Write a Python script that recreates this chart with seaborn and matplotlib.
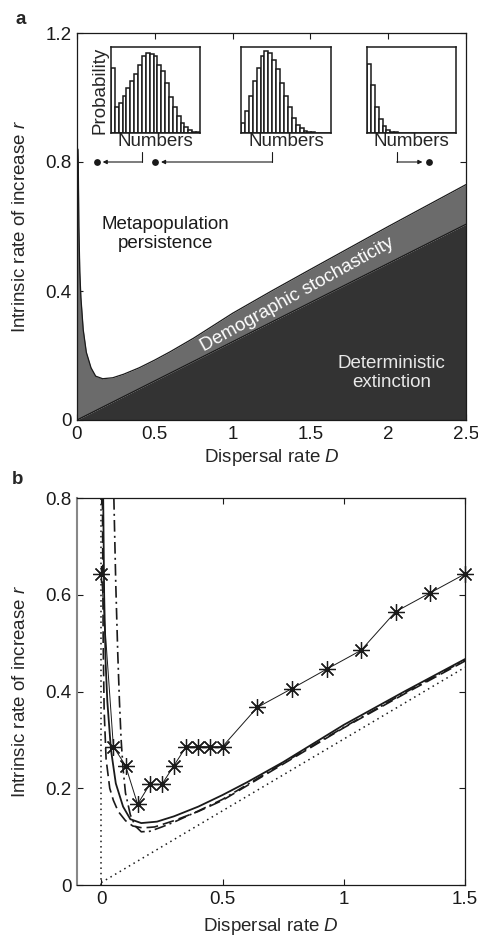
import numpy as np
import pandas as pd
import seaborn as sns
import matplotlib.pyplot as plt
from matplotlib.ticker import FuncFormatter

sns.set_theme(style="ticks")
plt.rcParams["font.family"] = ["Liberation Sans", "DejaVu Sans"]
plt.rcParams["mathtext.fontset"] = "custom"
plt.rcParams["mathtext.it"] = "Liberation Sans:italic"
plt.rcParams["mathtext.rm"] = "Liberation Sans"

FS = 13.5

# ---- panel a: region boundaries ----
upper_D = [0.006, 0.008, 0.012, 0.018, 0.025, 0.04, 0.06, 0.09, 0.12, 0.165,
           0.23, 0.3, 0.4, 0.5, 0.6, 0.75, 1.0, 1.25, 1.5, 2.0, 2.5]
upper_r = [0.84, 0.8, 0.6, 0.46, 0.38, 0.28, 0.21, 0.162, 0.136, 0.128,
           0.131, 0.142, 0.162, 0.186, 0.212, 0.254, 0.331, 0.400, 0.467, 0.60, 0.73]
lower_D = [0.0, 2.5]
lower_r = [0.0, 0.607]

# inset histograms (relative probabilities)
hist_left = [0.75, 0.30, 0.35, 0.43, 0.52, 0.61, 0.69, 0.79, 0.89, 0.93, 0.92, 0.89,
             0.79, 0.72, 0.58, 0.42, 0.30, 0.20, 0.115, 0.077, 0.04, 0.02, 0.01]
hist_mid = [0.115, 0.26, 0.43, 0.60, 0.75, 0.89, 0.95, 0.93, 0.85, 0.74, 0.58, 0.43,
            0.30, 0.18, 0.10, 0.057, 0.03, 0.02, 0.01, 0.005, 0.0, 0.0, 0.0]
hist_right = [0.80, 0.56, 0.31, 0.17, 0.084, 0.04, 0.02, 0.01, 0.005, 0.0, 0.0, 0.0,
              0.0, 0.0, 0.0, 0.0, 0.0, 0.0, 0.0, 0.0, 0.0, 0.0, 0.0]
dot_D = [0.127, 0.50, 2.26]

# ---- panel b: curves ----
solid_D = upper_D[:19]
solid_r = upper_r[:19]
dashed_D = [0.005, 0.008, 0.012, 0.02, 0.035, 0.05, 0.07, 0.1, 0.13, 0.17, 0.22,
            0.3, 0.4, 0.5, 0.75, 1.0, 1.25, 1.5]
dashed_r = [0.8, 0.5, 0.36, 0.26, 0.2, 0.175, 0.152, 0.133, 0.122, 0.118, 0.12,
            0.133, 0.152, 0.175, 0.25, 0.325, 0.395, 0.463]
dashdot_D = [0.052, 0.06, 0.068, 0.075, 0.082, 0.09, 0.1, 0.12, 0.14, 0.165, 0.2,
             0.25, 0.3, 0.4, 0.5, 0.75, 1.0, 1.25, 1.5]
dashdot_r = [0.8, 0.62, 0.48, 0.38, 0.3, 0.24, 0.19, 0.145, 0.122, 0.11, 0.111,
             0.12, 0.13, 0.153, 0.177, 0.252, 0.326, 0.397, 0.465]
dotted_D = [0.0, 1.5]
dotted_r = [0.005, 0.45]
sim_D = [0, 0.05, 0.1, 0.15, 0.2, 0.25, 0.3, 0.35, 0.4, 0.45, 0.5,
         0.643, 0.786, 0.929, 1.071, 1.214, 1.357, 1.5]
sim_r = [0.643, 0.286, 0.247, 0.167, 0.208, 0.208, 0.247, 0.286, 0.286, 0.286, 0.286,
         0.367, 0.406, 0.446, 0.485, 0.565, 0.604, 0.643]

fig = plt.figure(figsize=(4.78, 9.4), dpi=100)
ax_a = fig.add_axes([77 / 478, 1 - 420 / 940, 389 / 478, 387 / 940])
ax_b = fig.add_axes([77 / 478, 1 - 885 / 940, 388 / 478, 387 / 940])

fmt = FuncFormatter(lambda v, p: f"{v:g}")


def style_axes(ax):
    ax.tick_params(direction="in", length=4, width=0.8, top=True, right=True,
                   labelsize=FS, pad=4, colors="k")
    for s in ax.spines.values():
        s.set_color("k")
        s.set_linewidth(0.9)
    ax.xaxis.set_major_formatter(fmt)
    ax.yaxis.set_major_formatter(fmt)


# ================= panel a =================
ax = ax_a
xx = np.array(upper_D)
lower_at = np.interp(xx, lower_D, lower_r)
ax.fill_between(lower_D, 0, lower_r, color="#333333", lw=0, zorder=1)
ax.fill_between(np.r_[0.0, xx], np.r_[0.0, lower_at], np.r_[upper_r[0], upper_r],
                color="#6b6b6b", lw=0, zorder=1)
sns.lineplot(x=upper_D, y=upper_r, ax=ax, color="k", lw=0.9, estimator=None, sort=False, zorder=2)
sns.lineplot(x=lower_D, y=lower_r, ax=ax, color="k", lw=0.9, estimator=None, sort=False, zorder=2)
ax.plot([0, 0], [0, upper_r[0]], color="k", lw=1.2, zorder=2)

ax.set_xlim(0, 2.5)
ax.set_ylim(0, 1.2)
ax.set_xticks([0, 0.5, 1, 1.5, 2, 2.5])
ax.set_yticks([0, 0.4, 0.8, 1.2])
style_axes(ax)
ax.set_xlabel("Dispersal rate $\\mathit{D}$", fontsize=FS, labelpad=3)
ax.set_ylabel("Intrinsic rate of increase $\\mathit{r}$", fontsize=FS, labelpad=12)

ax.text(0.571, 0.577, "Metapopulation\npersistence", ha="center", va="center",
        fontsize=FS, color="k", linespacing=1.1)
ax.text(2.022, 0.146, "Deterministic\nextinction", ha="center", va="center",
        fontsize=FS, color="#e8e8e8", linespacing=1.1)
ax.text(1.414, 0.39, "Demographic stochasticity", ha="center", va="center",
        fontsize=FS, color="white", rotation=29, rotation_mode="anchor")

# insets
inset_x = [(0.2185, 0.79), (1.054, 1.632), (1.864, 2.436)]
hists = [hist_left, hist_mid, hist_right]
corner_D = [0.416, 1.255, 2.055]
tip_D = [0.165, 0.54, 2.22]
for i, ((x0, x1), h) in enumerate(zip(inset_x, hists)):
    ins = ax.inset_axes([x0, 0.889, x1 - x0, 1.157 - 0.889], transform=ax.transData)
    df = pd.DataFrame({"n": np.arange(len(h)), "p": h})
    sns.barplot(data=df, x="n", y="p", ax=ins, color="white", edgecolor="k",
                linewidth=1.1, width=1.0, saturation=1)
    ins.set_xlim(-0.5, len(h) - 0.5)
    ins.set_ylim(0, 1.0)
    ins.set_xticks([])
    ins.set_yticks([])
    for s in ins.spines.values():
        s.set_color("k")
        s.set_linewidth(1.1)
    ins.set_xlabel("Numbers", fontsize=FS, labelpad=0)
    ins.set_ylabel("Probability" if i == 0 else "", fontsize=FS, labelpad=2)
    # connector and arrow
    ax.plot([corner_D[i], corner_D[i]], [0.831, 0.8], color="k", lw=0.8)
    ax.annotate("", xy=(tip_D[i], 0.8), xytext=(corner_D[i], 0.8),
                arrowprops=dict(arrowstyle="-|>", color="k", lw=0.8,
                                mutation_scale=6, shrinkA=0, shrinkB=0))
sns.scatterplot(x=dot_D, y=[0.8] * 3, ax=ax, color="k", s=24, edgecolor="k",
                linewidth=0, zorder=4)

fig.text(15 / 478, 1 - 20 / 940, "a", fontsize=FS, fontweight="bold", ha="left", va="center")

# ================= panel b =================
ax = ax_b
sns.lineplot(x=[0, 0], y=[0, 0.8], ax=ax, color="k", lw=1.1, linestyle=(0, (1, 2.5)),
             estimator=None, sort=False)
sns.lineplot(x=dotted_D, y=dotted_r, ax=ax, color="k", lw=1.1, linestyle=(0, (1, 2.5)),
             estimator=None, sort=False)
sns.lineplot(x=dashed_D, y=dashed_r, ax=ax, color="k", lw=1.2, linestyle=(0, (7, 3)),
             estimator=None, sort=False)
sns.lineplot(x=dashdot_D, y=dashdot_r, ax=ax, color="k", lw=1.2,
             linestyle=(0, (7, 2.5, 1.2, 2.5)), estimator=None, sort=False)
sns.lineplot(x=solid_D, y=solid_r, ax=ax, color="k", lw=1.3, estimator=None, sort=False)
sns.lineplot(x=sim_D, y=sim_r, ax=ax, color="k", lw=0.7, marker=(8, 2, 0),
             markersize=12, markeredgewidth=0.9, markeredgecolor="k",
             estimator=None, sort=False, clip_on=False)

ax.set_xlim(-0.1, 1.5)
ax.set_ylim(0, 0.8)
ax.set_xticks([0, 0.5, 1, 1.5])
ax.set_yticks([0, 0.2, 0.4, 0.6, 0.8])
style_axes(ax)
ax.spines["left"].set_color("#888888")
ax.spines["left"].set_linewidth(1.5)
ax.set_xlabel("Dispersal rate $\\mathit{D}$", fontsize=FS, labelpad=6)
ax.set_ylabel("Intrinsic rate of increase $\\mathit{r}$", fontsize=FS, labelpad=12)

fig.text(12 / 478, 1 - 480 / 940, "b", fontsize=FS, fontweight="bold", ha="left", va="center")

fig.savefig("out.png", dpi=100)
